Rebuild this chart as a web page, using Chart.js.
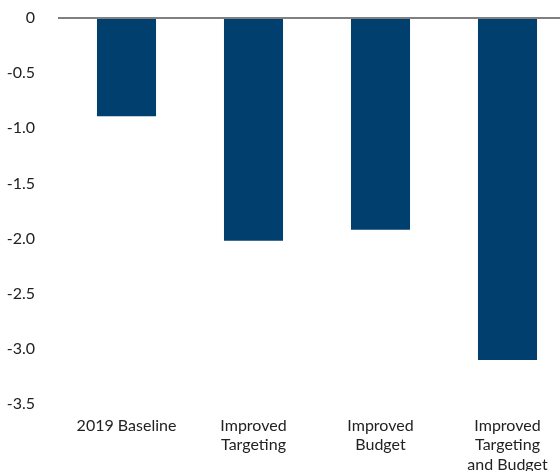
<!DOCTYPE html>
<html>
<head>
<meta charset="utf-8">
<script src="https://cdn.jsdelivr.net/npm/chart.js@4"></script>
<style>
    html, body { margin: 0; padding: 0; background: #fff; overflow: hidden; }
    #wrap { width: 572px; height: 471px; }
</style>
</head>
<body>
<div id="wrap"><canvas id="chart" width="572" height="471"></canvas></div>
<script>
// Chart data
const categories = ['2019 Baseline', ['Improved', 'Targeting'], ['Improved', 'Budget'], ['Improved', 'Targeting', 'and Budget']];
const values = [-0.89, -2.02, -1.92, -3.10];
const yTicks = [-3.5, -3.0, -2.5, -2.0, -1.5, -1.0, -0.5, 0];

const ctx = document.getElementById('chart').getContext('2d');
new Chart(ctx, {
    type: 'bar',
    data: {
        labels: categories,
        datasets: [{
            data: values,
            backgroundColor: '#003F6E',
            categoryPercentage: 1,
            barPercentage: 0.465
        }]
    },
    options: {
        responsive: false,
        animation: false,
        layout: { padding: { left: 0, right: 1, top: 0, bottom: 0 } },
        plugins: { legend: { display: false }, tooltip: { enabled: false } },
        scales: {
            x: {
                grid: { display: false },
                border: { display: false },
                afterFit: axis => { axis.height = 67; },
                ticks: {
                    color: '#222',
                    font: { family: 'Lato', size: 16, lineHeight: 1.22 },
                    maxRotation: 0,
                    autoSkip: false,
                    padding: 4
                }
            },
            y: {
                min: -3.5,
                max: 0,
                afterBuildTicks: axis => { axis.ticks = yTicks.map(v => ({ value: v })); },
                afterFit: axis => { axis.width = 63; axis.paddingTop = 18; },
                border: { display: false },
                grid: {
                    color: c => c.tick && c.tick.value === 0 ? '#808080' : 'rgba(0,0,0,0)',
                    lineWidth: 2,
                    tickLength: 5
                },
                ticks: {
                    color: '#222',
                    font: { family: 'Lato', size: 16 },
                    padding: 23,
                    callback: v => v === 0 ? '0' : v.toFixed(1)
                }
            }
        }
    }
});
</script>
</body>
</html>
